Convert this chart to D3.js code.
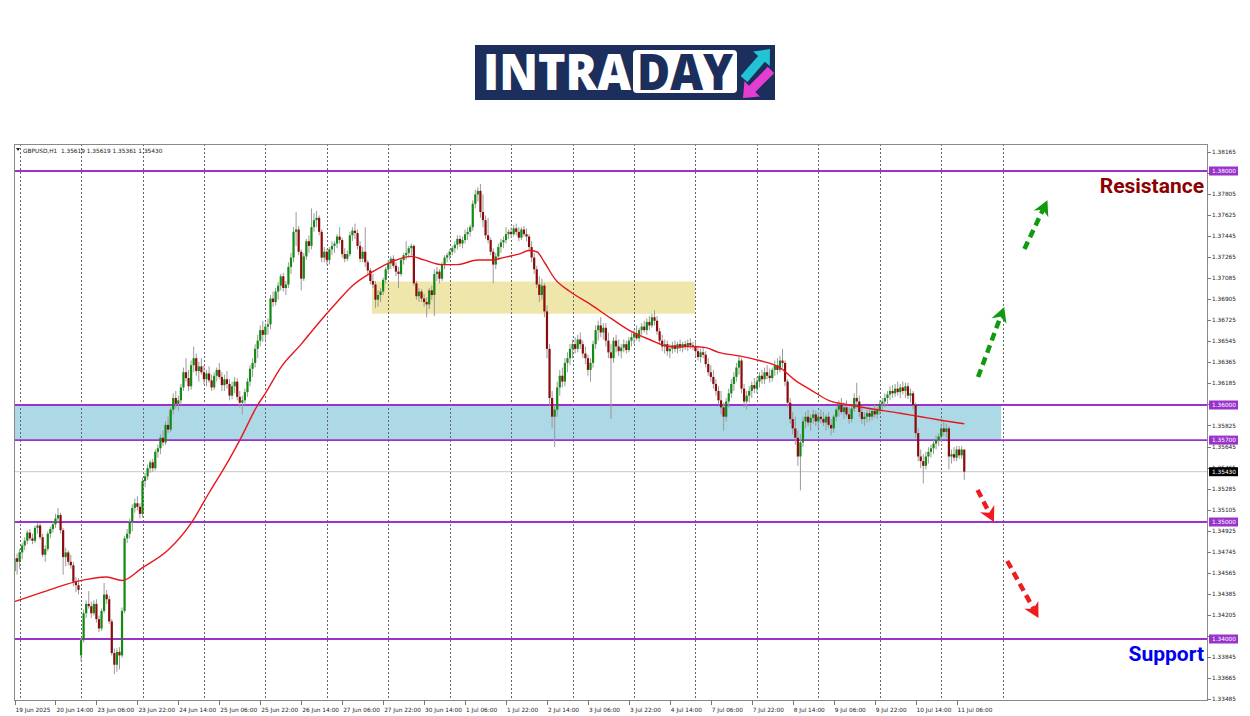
<!DOCTYPE html>
<html><head><meta charset="utf-8">
<script src="https://cdn.jsdelivr.net/npm/d3@7"></script>
<style>body{margin:0;background:#fff}svg{display:block}</style>
</head><body>
<svg id="c" width="1250" height="716"></svg>
<script>
// ---------------- DATA ----------------
const symbolInfo = "GBPUSD,H1  1.35619 1.35619 1.35361 1.35430";
const timeLabels = ["19 Jun 2025","20 Jun 14:00","23 Jun 06:00","23 Jun 22:00","24 Jun 14:00","25 Jun 06:00","25 Jun 22:00","26 Jun 14:00","27 Jun 06:00","27 Jun 22:00","30 Jun 14:00","1 Jul 06:00","1 Jul 22:00","2 Jul 14:00","3 Jul 06:00","3 Jul 22:00","4 Jul 14:00","7 Jul 06:00","7 Jul 22:00","8 Jul 14:00","9 Jul 06:00","9 Jul 22:00","10 Jul 14:00","11 Jul 06:00"];
const timeLabelBars = [0,16,32,48,64,80,96,112,128,144,160,176,192,208,224,240,256,272,288,304,320,336,352,368];
const daySeparatorBars = [2,26,50,74,98,122,146,170,194,218,242,266,290,314,338,362,386];
const priceTicks = [1.38165,1.37985,1.37805,1.37625,1.37445,1.37265,1.37085,1.36905,1.36725,1.36545,1.36365,1.36185,1.36005,1.35825,1.35645,1.35465,1.35285,1.35105,1.34925,1.34745,1.34565,1.34385,1.34205,1.34025,1.33845,1.33665,1.33485];
const levels = [1.38000,1.36000,1.35700,1.35000,1.34000];
const lastPrice = 1.35430;
const blueZone = {fromBar:0, toBar:385.4, top:1.3600, bottom:1.3570};
const yellowZone = {fromBar:139.6, toBar:265.8, top:1.37055, bottom:1.36780};
const upArrows = [{from:[376.4,1.36239],to:[386.6,1.36838]},{from:[394.5,1.37333],to:[403.5,1.37750]}];
const downArrows = [{from:[376.2,1.35274],to:[382.6,1.35000]},{from:[387.8,1.34667],to:[400.0,1.34180]}];

const opens = [
1.3458,1.3469,1.3466,1.3474,1.3480,1.3484,1.3491,1.3486,1.3484,1.3495,1.3497,1.3487,1.3472,1.3477,1.3490,1.3494,1.3498,1.3503,1.3506,1.3493,1.3470,1.3474,1.3466,1.3463,1.3449,1.3446,
1.3386,1.3399,1.3422,1.3430,1.3428,1.3422,1.3430,1.3417,1.3409,1.3424,1.3438,1.3434,1.3415,1.3388,1.3378,1.3389,1.3386,1.3424,1.3486,1.3490,1.3500,1.3512,1.3516,1.3513,
1.3507,1.3535,1.3539,1.3546,1.3551,1.3546,1.3560,1.3563,1.3572,1.3568,1.3583,1.3579,1.3596,1.3606,1.3601,1.3604,1.3615,1.3628,1.3623,1.3616,1.3634,1.3640,1.3629,1.3633,
1.3628,1.3622,1.3627,1.3621,1.3615,1.3625,1.3630,1.3624,1.3617,1.3622,1.3618,1.3608,1.3616,1.3620,1.3607,1.3602,1.3604,1.3611,1.3620,1.3631,1.3636,1.3648,1.3655,1.3664,
1.3660,1.3667,1.3669,1.3691,1.3688,1.3697,1.3702,1.3710,1.3700,1.3703,1.3718,1.3726,1.3748,1.3750,1.3731,1.3708,1.3727,1.3740,1.3736,1.3752,1.3758,1.3760,1.3748,1.3726,
1.3731,1.3724,1.3733,1.3736,1.3738,1.3744,1.3741,1.3729,1.3725,1.3729,1.3745,1.3749,1.3747,1.3736,1.3725,1.3731,1.3722,1.3715,1.3706,1.3703,1.3690,1.3694,1.3697,1.3707,
1.3716,1.3721,1.3725,1.3719,1.3714,1.3712,1.3724,1.3728,1.3730,1.3734,1.3736,1.3704,1.3693,1.3697,1.3691,1.3688,1.3686,1.3698,1.3694,1.3712,1.3714,1.3708,1.3720,1.3726,
1.3728,1.3731,1.3734,1.3737,1.3742,1.3738,1.3741,1.3746,1.3748,1.3752,1.3772,1.3780,1.3783,1.3765,1.3758,1.3745,1.3741,1.3731,1.3720,1.3727,1.3735,1.3739,1.3741,1.3746,
1.3748,1.3746,1.3751,1.3748,1.3743,1.3750,1.3746,1.3744,1.3735,1.3726,1.3716,1.3703,1.3694,1.3702,1.3680,1.3648,1.3606,1.3590,1.3596,1.3615,1.3625,1.3620,1.3636,1.3640,
1.3648,1.3652,1.3648,1.3656,1.3652,1.3644,1.3640,1.3630,1.3636,1.3652,1.3664,1.3668,1.3662,1.3666,1.3655,1.3645,1.3640,1.3655,1.3650,1.3646,1.3649,1.3652,1.3647,1.3655,
1.3658,1.3661,1.3657,1.3664,1.3667,1.3664,1.3671,1.3668,1.3675,1.3672,1.3663,1.3655,1.3650,1.3652,1.3646,1.3648,1.3651,1.3648,1.3652,1.3649,1.3652,1.3650,1.3653,1.3651,
1.3650,1.3646,1.3641,1.3645,1.3643,1.3635,1.3628,1.3624,1.3618,1.3612,1.3604,1.3598,1.3590,1.3603,1.3610,1.3618,1.3624,1.3632,1.3638,1.3614,1.3603,1.3608,1.3612,1.3617,
1.3614,1.3620,1.3625,1.3622,1.3628,1.3625,1.3623,1.3630,1.3634,1.3630,1.3638,1.3636,1.3620,1.3602,1.3588,1.3580,1.3572,1.3556,1.3568,1.3586,1.3590,1.3585,1.3589,1.3592,
1.3586,1.3590,1.3588,1.3585,1.3590,1.3583,1.3580,1.3590,1.3596,1.3600,1.3594,1.3598,1.3592,1.3588,1.3597,1.3606,1.3603,1.3594,1.3588,1.3590,1.3593,1.3590,1.3595,1.3592,
1.3596,1.3601,1.3603,1.3606,1.3609,1.3612,1.3610,1.3614,1.3611,1.3615,1.3612,1.3616,1.3608,1.3610,1.3600,1.3576,1.3556,1.3552,1.3548,1.3556,1.3560,1.3563,1.3567,1.3570,
1.3573,1.3580,1.3577,1.3580,1.3556,1.3558,1.3555,1.3562,1.3557,1.35619];
const highs = [
1.3472,1.3473,1.3477,1.3482,1.3487,1.3493,1.3494,1.3490,1.3497,1.3499,1.3499,1.3490,1.3480,1.3492,1.3496,1.3500,1.3507,1.3512,1.3508,1.3495,1.3478,1.3476,1.3472,1.3466,1.3453,1.3452,
1.3401,1.3425,1.3433,1.3441,1.3432,1.3433,1.3434,1.3420,1.3426,1.3448,1.3442,1.3437,1.3417,1.3392,1.3392,1.3393,1.3427,1.3488,1.3494,1.3503,1.3515,1.3520,1.3522,1.3516,
1.3538,1.3542,1.3549,1.3553,1.3554,1.3562,1.3566,1.3575,1.3578,1.3586,1.3590,1.3598,1.3610,1.3612,1.3608,1.3618,1.3632,1.3640,1.3630,1.3638,1.3650,1.3644,1.3637,1.3640,
1.3634,1.3630,1.3633,1.3626,1.3628,1.3632,1.3636,1.3628,1.3626,1.3629,1.3622,1.3620,1.3624,1.3623,1.3612,1.3608,1.3614,1.3623,1.3634,1.3640,1.3652,1.3660,1.3668,1.3672,
1.3670,1.3674,1.3694,1.3697,1.3700,1.3705,1.3712,1.3713,1.3706,1.3722,1.3730,1.3752,1.3765,1.3753,1.3733,1.3730,1.3742,1.3745,1.3768,1.3764,1.3766,1.3762,1.3750,1.3735,
1.3733,1.3735,1.3740,1.3740,1.3746,1.3752,1.3743,1.3734,1.3732,1.3748,1.3752,1.3755,1.3750,1.3740,1.3735,1.3752,1.3724,1.3717,1.3712,1.3706,1.3698,1.3700,1.3709,1.3718,
1.3724,1.3727,1.3728,1.3722,1.3718,1.3726,1.3730,1.3740,1.3736,1.3738,1.3737,1.3706,1.3700,1.3699,1.3695,1.3692,1.3700,1.3702,1.3716,1.3718,1.3716,1.3722,1.3728,1.3730,
1.3733,1.3736,1.3740,1.3745,1.3745,1.3744,1.3750,1.3752,1.3754,1.3775,1.3784,1.3786,1.3789,1.3780,1.3762,1.3760,1.3743,1.3734,1.3730,1.3738,1.3742,1.3744,1.3752,1.3750,
1.3752,1.3754,1.3755,1.3752,1.3752,1.3753,1.3751,1.3746,1.3740,1.3730,1.3719,1.3710,1.3708,1.3704,1.3685,1.3652,1.3612,1.3600,1.3620,1.3630,1.3632,1.3640,1.3645,1.3652,
1.3656,1.3658,1.3660,1.3662,1.3655,1.3650,1.3643,1.3640,1.3655,1.3668,1.3672,1.3675,1.3670,1.3670,1.3662,1.3652,1.3658,1.3660,1.3656,1.3652,1.3656,1.3655,1.3658,1.3662,
1.3664,1.3668,1.3666,1.3670,1.3672,1.3674,1.3676,1.3678,1.3681,1.3676,1.3666,1.3660,1.3656,1.3655,1.3652,1.3654,1.3655,1.3654,1.3656,1.3654,1.3655,1.3656,1.3657,1.3654,
1.3655,1.3650,1.3648,1.3650,1.3646,1.3640,1.3634,1.3630,1.3622,1.3616,1.3612,1.3602,1.3606,1.3614,1.3622,1.3628,1.3636,1.3642,1.3640,1.3618,1.3612,1.3616,1.3620,1.3623,
1.3624,1.3628,1.3630,1.3632,1.3634,1.3631,1.3632,1.3638,1.3640,1.3642,1.3648,1.3638,1.3622,1.3606,1.3594,1.3590,1.3578,1.3575,1.3590,1.3594,1.3596,1.3592,1.3596,1.3595,
1.3594,1.3596,1.3594,1.3592,1.3594,1.3588,1.3592,1.3598,1.3604,1.3606,1.3602,1.3604,1.3598,1.3600,1.3610,1.3619,1.3608,1.3598,1.3594,1.3596,1.3598,1.3597,1.3600,1.3598,
1.3604,1.3606,1.3610,1.3612,1.3616,1.3617,1.3618,1.3620,1.3618,1.3620,1.3619,1.3619,1.3614,1.3612,1.3602,1.3580,1.3562,1.3558,1.3560,1.3564,1.3566,1.3570,1.3574,1.3576,
1.3584,1.3586,1.3584,1.3582,1.3562,1.3564,1.3565,1.3565,1.3565,1.35619];
const lows = [
1.3448,1.3455,1.3460,1.3468,1.3476,1.3481,1.3484,1.3481,1.3482,1.3490,1.3485,1.3470,1.3466,1.3475,1.3486,1.3491,1.3495,1.3500,1.3490,1.3455,1.3462,1.3463,1.3460,1.3445,1.3440,1.3438,
1.3381,1.3397,1.3418,1.3426,1.3418,1.3420,1.3414,1.3406,1.3407,1.3422,1.3430,1.3413,1.3386,1.3370,1.3372,1.3374,1.3384,1.3422,1.3482,1.3486,1.3492,1.3508,1.3510,1.3503,
1.3504,1.3530,1.3536,1.3542,1.3543,1.3544,1.3555,1.3558,1.3565,1.3566,1.3576,1.3577,1.3592,1.3597,1.3595,1.3600,1.3612,1.3620,1.3612,1.3613,1.3628,1.3625,1.3620,1.3626,
1.3618,1.3616,1.3619,1.3612,1.3613,1.3620,1.3622,1.3612,1.3612,1.3614,1.3604,1.3605,1.3610,1.3604,1.3598,1.3592,1.3600,1.3607,1.3616,1.3624,1.3632,1.3640,1.3650,1.3654,
1.3655,1.3660,1.3665,1.3684,1.3685,1.3690,1.3698,1.3697,1.3694,1.3700,1.3712,1.3722,1.3736,1.3728,1.3698,1.3706,1.3724,1.3730,1.3733,1.3748,1.3752,1.3745,1.3722,1.3722,
1.3720,1.3720,1.3728,1.3730,1.3734,1.3738,1.3726,1.3722,1.3723,1.3727,1.3740,1.3742,1.3733,1.3722,1.3722,1.3718,1.3712,1.3703,1.3700,1.3683,1.3684,1.3688,1.3694,1.3704,
1.3712,1.3716,1.3717,1.3710,1.3700,1.3710,1.3720,1.3724,1.3726,1.3728,1.3702,1.3690,1.3688,1.3688,1.3684,1.3675,1.3682,1.3690,1.3676,1.3706,1.3704,1.3706,1.3716,1.3722,
1.3724,1.3728,1.3730,1.3733,1.3735,1.3734,1.3738,1.3741,1.3744,1.3749,1.3768,1.3774,1.3760,1.3752,1.3742,1.3738,1.3728,1.3704,1.3716,1.3724,1.3730,1.3734,1.3738,1.3742,
1.3743,1.3744,1.3745,1.3740,1.3741,1.3744,1.3740,1.3732,1.3722,1.3712,1.3700,1.3688,1.3690,1.3675,1.3640,1.3600,1.3580,1.3564,1.3590,1.3608,1.3615,1.3616,1.3628,1.3634,
1.3640,1.3644,1.3645,1.3648,1.3640,1.3635,1.3625,1.3620,1.3632,1.3648,1.3655,1.3658,1.3656,1.3650,1.3640,1.3588,1.3636,1.3645,1.3642,1.3640,1.3645,1.3644,1.3645,1.3650,
1.3652,1.3655,1.3654,1.3660,1.3662,1.3660,1.3664,1.3666,1.3668,1.3660,1.3652,1.3646,1.3644,1.3642,1.3640,1.3644,1.3645,1.3644,1.3646,1.3645,1.3647,1.3646,1.3648,1.3647,
1.3642,1.3638,1.3636,1.3640,1.3632,1.3625,1.3620,1.3614,1.3608,1.3600,1.3592,1.3578,1.3586,1.3598,1.3606,1.3612,1.3620,1.3626,1.3610,1.3598,1.3596,1.3602,1.3606,1.3610,
1.3610,1.3615,1.3618,1.3618,1.3622,1.3619,1.3620,1.3625,1.3626,1.3628,1.3632,1.3616,1.3598,1.3584,1.3575,1.3566,1.3548,1.3527,1.3564,1.3580,1.3582,1.3578,1.3584,1.3582,
1.3580,1.3584,1.3582,1.3578,1.3580,1.3574,1.3576,1.3586,1.3590,1.3592,1.3588,1.3590,1.3584,1.3585,1.3594,1.3600,1.3590,1.3584,1.3582,1.3585,1.3586,1.3587,1.3589,1.3588,
1.3592,1.3596,1.3598,1.3600,1.3604,1.3606,1.3607,1.3608,1.3606,1.3609,1.3606,1.3605,1.3602,1.3596,1.3572,1.3552,1.3546,1.3533,1.3545,1.3550,1.3555,1.3558,1.3562,1.3565,
1.3568,1.3574,1.3572,1.3545,1.3550,1.3552,1.3552,1.3554,1.3554,1.35361];
const closes = [
1.3469,1.3466,1.3474,1.3480,1.3484,1.3491,1.3486,1.3484,1.3495,1.3497,1.3487,1.3472,1.3477,1.3490,1.3494,1.3498,1.3503,1.3506,1.3493,1.3470,1.3474,1.3466,1.3463,1.3449,1.3446,1.3442,
1.3399,1.3422,1.3430,1.3428,1.3422,1.3430,1.3417,1.3409,1.3424,1.3438,1.3434,1.3415,1.3388,1.3378,1.3389,1.3386,1.3424,1.3486,1.3490,1.3500,1.3512,1.3516,1.3513,1.3507,
1.3535,1.3539,1.3546,1.3551,1.3546,1.3560,1.3563,1.3572,1.3568,1.3583,1.3579,1.3596,1.3606,1.3601,1.3604,1.3615,1.3628,1.3623,1.3616,1.3634,1.3640,1.3629,1.3633,1.3628,
1.3622,1.3627,1.3621,1.3615,1.3625,1.3630,1.3624,1.3617,1.3622,1.3618,1.3608,1.3616,1.3620,1.3607,1.3602,1.3604,1.3611,1.3620,1.3631,1.3636,1.3648,1.3655,1.3664,1.3660,
1.3667,1.3669,1.3691,1.3688,1.3697,1.3702,1.3710,1.3700,1.3703,1.3718,1.3726,1.3748,1.3750,1.3731,1.3708,1.3727,1.3740,1.3736,1.3752,1.3758,1.3760,1.3748,1.3726,1.3731,
1.3724,1.3733,1.3736,1.3738,1.3744,1.3741,1.3729,1.3725,1.3729,1.3745,1.3749,1.3747,1.3736,1.3725,1.3731,1.3722,1.3715,1.3706,1.3703,1.3690,1.3694,1.3697,1.3707,1.3716,
1.3721,1.3725,1.3719,1.3714,1.3712,1.3724,1.3728,1.3730,1.3734,1.3736,1.3704,1.3693,1.3697,1.3691,1.3688,1.3686,1.3698,1.3694,1.3712,1.3714,1.3708,1.3720,1.3726,1.3728,
1.3731,1.3734,1.3737,1.3742,1.3738,1.3741,1.3746,1.3748,1.3752,1.3772,1.3780,1.3783,1.3765,1.3758,1.3745,1.3741,1.3731,1.3720,1.3727,1.3735,1.3739,1.3741,1.3746,1.3748,
1.3746,1.3751,1.3748,1.3743,1.3750,1.3746,1.3744,1.3735,1.3726,1.3716,1.3703,1.3694,1.3702,1.3680,1.3648,1.3606,1.3590,1.3596,1.3615,1.3625,1.3620,1.3636,1.3640,1.3648,
1.3652,1.3648,1.3656,1.3652,1.3644,1.3640,1.3630,1.3636,1.3652,1.3664,1.3668,1.3662,1.3666,1.3655,1.3645,1.3640,1.3655,1.3650,1.3646,1.3649,1.3652,1.3647,1.3655,1.3658,
1.3661,1.3657,1.3664,1.3667,1.3664,1.3671,1.3668,1.3675,1.3672,1.3663,1.3655,1.3650,1.3652,1.3646,1.3648,1.3651,1.3648,1.3652,1.3649,1.3652,1.3650,1.3653,1.3651,1.3650,
1.3646,1.3641,1.3645,1.3643,1.3635,1.3628,1.3624,1.3618,1.3612,1.3604,1.3598,1.3590,1.3603,1.3610,1.3618,1.3624,1.3632,1.3638,1.3614,1.3603,1.3608,1.3612,1.3617,1.3614,
1.3620,1.3625,1.3622,1.3628,1.3625,1.3623,1.3630,1.3634,1.3630,1.3638,1.3636,1.3620,1.3602,1.3588,1.3580,1.3572,1.3556,1.3568,1.3586,1.3590,1.3585,1.3589,1.3592,1.3586,
1.3590,1.3588,1.3585,1.3590,1.3583,1.3580,1.3590,1.3596,1.3600,1.3594,1.3598,1.3592,1.3588,1.3597,1.3606,1.3603,1.3594,1.3588,1.3590,1.3593,1.3590,1.3595,1.3592,1.3596,
1.3601,1.3603,1.3606,1.3609,1.3612,1.3610,1.3614,1.3611,1.3615,1.3612,1.3616,1.3608,1.3610,1.3600,1.3576,1.3556,1.3552,1.3548,1.3556,1.3560,1.3563,1.3567,1.3570,1.3573,
1.3580,1.3577,1.3580,1.3556,1.3558,1.3555,1.3562,1.3557,1.3562,1.35430];

const maBars = [0,11,24,36,42,50,60,69,76,84,88,95,98,104,112,118,126,132,140,148,155,160,167,173,181,187,191,197,201,204,207,211,217,225,233,240,248,256,264,270,275,283,291,299,305,311,318,326,334,346,354,362,371];
const maValues = [1.3432,1.3440,1.3449,1.3453,1.3450,1.3461,1.3476,1.3499,1.3525,1.3554,1.3570,1.3600,1.3610,1.3632,1.3652,1.3668,1.3688,1.3702,1.3714,1.3723,1.3727,1.3724,1.3720,1.3720,1.3724,1.3724,1.3726,1.3729,1.3732,1.3731,1.3722,1.3708,1.3697,1.3686,1.3674,1.3664,1.3656,1.3650,1.3650,1.3649,1.3645,1.3642,1.3638,1.3632,1.3621,1.3613,1.3604,1.3600,1.3597,1.3593,1.3590,1.3587,1.3584];

// ---------------- LAYOUT ----------------
const svg = d3.select("#c");
const L = 14, R = 1207, T = 144, B = 700;
const nBars = closes.length;
const x = d3.scaleLinear().domain([0, 371]).range([14.5, 14.5 + 371 * 2.56]);
const y = d3.scaleLinear().domain([1.33485, 1.38165]).range([699.26, 151.7]);
const axisFont = "DejaVu Sans";

svg.append("defs").append("clipPath").attr("id","clip")
  .append("rect").attr("x",L).attr("y",T).attr("width",R-L).attr("height",B-T);

// ---------------- LOGO ----------------
const logo = svg.append("g");
logo.append("rect").attr("x",475).attr("y",45).attr("width",300).attr("height",55).attr("fill","#1c2e5c");
logo.append("text").attr("x",483).attr("y",90).text("INTRA")
  .attr("font-family","Open Sans").attr("font-weight",800).attr("font-size",49)
  .attr("fill","#fff").attr("textLength",148).attr("lengthAdjust","spacingAndGlyphs");
logo.append("rect").attr("x",633).attr("y",50).attr("width",104).attr("height",43).attr("rx",4).attr("fill","#fff");
logo.append("text").attr("x",637).attr("y",90).text("DAY")
  .attr("font-family","Open Sans").attr("font-weight",800).attr("font-size",49)
  .attr("fill","#1c2e5c").attr("textLength",96).attr("lengthAdjust","spacingAndGlyphs");
function blockArrow(x0,y0,x1,y1,sw,hl,hw,color){
  const dx=x1-x0, dy=y1-y0, len=Math.hypot(dx,dy), ux=dx/len, uy=dy/len, px=-uy, py=ux;
  const bx=x1-ux*hl, by=y1-uy*hl;
  const pts=[[x0+px*sw/2,y0+py*sw/2],[bx+px*sw/2,by+py*sw/2],[bx+px*hw/2,by+py*hw/2],[x1,y1],
             [bx-px*hw/2,by-py*hw/2],[bx-px*sw/2,by-py*sw/2],[x0-px*sw/2,y0-py*sw/2]];
  logo.append("path").attr("d","M"+pts.map(p=>p.join(",")).join("L")+"Z").attr("fill",color);
}
blockArrow(744,79,770,49,9,13,22,"#22c3d5");
blockArrow(771,70,743,98,9,13,22,"#e43dd0");

// ---------------- FRAME / GRID ----------------
const chart = svg.append("g");
const clipped = chart.append("g").attr("clip-path","url(#clip)");

// zones
clipped.append("rect").attr("x",x(blueZone.fromBar)-1).attr("width",x(blueZone.toBar)-x(blueZone.fromBar)+1)
  .attr("y",y(blueZone.top)).attr("height",y(blueZone.bottom)-y(blueZone.top)).attr("fill","#add8e6");
clipped.append("rect").attr("x",x(yellowZone.fromBar)).attr("width",x(yellowZone.toBar)-x(yellowZone.fromBar))
  .attr("y",y(yellowZone.top)).attr("height",y(yellowZone.bottom)-y(yellowZone.top)).attr("fill","#efe6ab");

// vertical dotted grid
clipped.selectAll("line.grid").data(daySeparatorBars).join("line").attr("class","grid")
  .attr("x1",d=>Math.round(x(d))+0.5).attr("x2",d=>Math.round(x(d))+0.5).attr("y1",T).attr("y2",B)
  .attr("stroke","#666").attr("stroke-width",1).attr("stroke-dasharray","2,2");

// bid line
clipped.append("line").attr("x1",L).attr("x2",R).attr("y1",y(lastPrice)).attr("y2",y(lastPrice))
  .attr("stroke","#c8c8c8").attr("stroke-width",1);

// level lines
clipped.selectAll("line.lvl").data(levels).join("line").attr("class","lvl")
  .attr("x1",L).attr("x2",R).attr("y1",d=>y(d)).attr("y2",d=>y(d))
  .attr("stroke","#9933cc").attr("stroke-width",1.8);

// candles
const bars = closes.map((c,i)=>({i,o:opens[i],h:highs[i],l:lows[i],c}));
clipped.selectAll("line.wick").data(bars).join("line").attr("class","wick")
  .attr("x1",d=>x(d.i)).attr("x2",d=>x(d.i)).attr("y1",d=>y(d.h)).attr("y2",d=>y(d.l))
  .attr("stroke","#9a9a9a").attr("stroke-width",1);
clipped.selectAll("rect.body").data(bars).join("rect").attr("class","body")
  .attr("x",d=>x(d.i)-1.1).attr("width",2.2)
  .attr("y",d=>y(Math.max(d.o,d.c)))
  .attr("height",d=>Math.max(1,Math.abs(y(d.o)-y(d.c))))
  .attr("fill",d=>d.c>=d.o?"#138a13":"#8a0c0c");

// moving average
const ma = maBars.map((b,k)=>[b,maValues[k]]);
clipped.append("path").datum(ma)
  .attr("d",d3.line().x(d=>x(d[0])).y(d=>y(d[1])).curve(d3.curveMonotoneX))
  .attr("fill","none").attr("stroke","#e8161c").attr("stroke-width",1.4);

// frame
chart.append("line").attr("x1",L).attr("x2",R).attr("y1",T+0.5).attr("y2",T+0.5).attr("stroke","#8a8a8a");
chart.append("line").attr("x1",L+0.5).attr("x2",L+0.5).attr("y1",T).attr("y2",B).attr("stroke","#8a8a8a");
chart.append("line").attr("x1",R+0.5).attr("x2",R+0.5).attr("y1",T).attr("y2",B+1).attr("stroke","#8a8a8a");
chart.append("line").attr("x1",L).attr("x2",R+1).attr("y1",B+0.5).attr("y2",B+0.5).attr("stroke","#8a8a8a");

// header
chart.append("path").attr("d",`M${L+2},${T+4}L${L+6},${T+4}L${L+4},${T+7}Z`).attr("fill","#222");
chart.append("text").attr("x",L+9).attr("y",T+8.5).text(symbolInfo)
  .attr("font-family",axisFont).attr("font-size",5.8).attr("fill","#222").attr("xml:space","preserve");

// price axis (labels hidden behind level labels are skipped, as in the reference)
const labelled = levels.concat([lastPrice]);
const visibleTicks = priceTicks.filter(t => labelled.every(l => Math.abs(y(t)-y(l)) > 4));
const pa = chart.append("g");
pa.selectAll("line").data(priceTicks).join("line")
  .attr("x1",R).attr("x2",R+4).attr("y1",d=>Math.round(y(d))+0.5).attr("y2",d=>Math.round(y(d))+0.5)
  .attr("stroke","#777");
pa.selectAll("text").data(visibleTicks).join("text")
  .attr("x",R+5).attr("y",d=>y(d)+2.1).text(d=>d.toFixed(5))
  .attr("font-family",axisFont).attr("font-size",5.8).attr("fill","#222");

// level labels
const ll = chart.append("g");
ll.selectAll("rect").data(levels).join("rect")
  .attr("x",R+2).attr("width",29).attr("y",d=>y(d)-4.5).attr("height",9).attr("fill","#9933cc");
ll.selectAll("text").data(levels).join("text")
  .attr("x",R+5).attr("y",d=>y(d)+2.1).text(d=>d.toFixed(5))
  .attr("font-family",axisFont).attr("font-size",5.8).attr("fill","#fff");
chart.append("rect").attr("x",R+2).attr("width",29).attr("y",y(lastPrice)-4.5).attr("height",9).attr("fill","#000");
chart.append("text").attr("x",R+5).attr("y",y(lastPrice)+2.1).text(lastPrice.toFixed(5))
  .attr("font-family",axisFont).attr("font-size",5.8).attr("fill","#fff");

// time axis
const ta = chart.append("g");
ta.selectAll("line").data(timeLabelBars).join("line")
  .attr("x1",d=>Math.round(x(d))+0.5).attr("x2",d=>Math.round(x(d))+0.5).attr("y1",B).attr("y2",B+5)
  .attr("stroke","#777");
ta.selectAll("text").data(timeLabels).join("text")
  .attr("x",(d,k)=>x(timeLabelBars[k])+1).attr("y",B+11.5).text(d=>d)
  .attr("font-family",axisFont).attr("font-size",5.8).attr("fill","#222");

// arrows
function dashedArrow(a,color){
  const x0=x(a.from[0]), y0=y(a.from[1]), x1=x(a.to[0]), y1=y(a.to[1]);
  const dx=x1-x0, dy=y1-y0, len=Math.hypot(dx,dy), ux=dx/len, uy=dy/len, px=-uy, py=ux;
  const hl=15, hw=8, bx=x1-ux*hl, by=y1-uy*hl, nx=x1-ux*hl*0.7, ny=y1-uy*hl*0.7;
  chart.append("line").attr("x1",x0).attr("y1",y0).attr("x2",nx).attr("y2",ny)
    .attr("stroke",color).attr("stroke-width",4.5).attr("stroke-dasharray","8,5");
  chart.append("path").attr("d",`M${x1},${y1}L${bx+px*hw},${by+py*hw}L${nx},${ny}L${bx-px*hw},${by-py*hw}Z`).attr("fill",color);
}
upArrows.forEach(a=>dashedArrow(a,"#0f9a10"));
downArrows.forEach(a=>dashedArrow(a,"#ee1c1c"));

// annotations
chart.append("text").attr("x",1204).attr("y",193).attr("text-anchor","end").text("Resistance")
  .attr("font-family","Roboto").attr("font-weight",700).attr("font-size",21).attr("fill","#8b0000");
chart.append("text").attr("x",1204).attr("y",661).attr("text-anchor","end").text("Support")
  .attr("font-family","Roboto").attr("font-weight",700).attr("font-size",21).attr("fill","#0000ee");

if ([opens,highs,lows].some(a=>a.length!==nBars)) console.error("length mismatch", opens.length, highs.length, lows.length, nBars);
</script>
</body></html>
